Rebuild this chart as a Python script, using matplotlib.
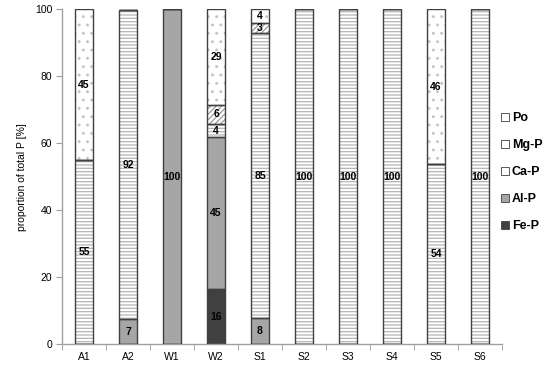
import matplotlib
matplotlib.use("Agg")
import matplotlib.pyplot as plt
from matplotlib.patches import Patch
import numpy as np

plt.rcParams['font.family'] = ['Liberation Sans', 'DejaVu Sans']

categories = ["A1", "A2", "W1", "W2", "S1", "S2", "S3", "S4", "S5", "S6"]
fe_p = [0, 0, 0, 16.4, 0, 0, 0, 0, 0, 0]
al_p = [0, 7.4, 100, 45.4, 7.7, 0, 0, 0, 0, 0]
ca_p = [55.0, 92.4, 0, 3.9, 85.1, 100, 100, 100, 53.7, 100]
mg_p = [0, 0, 0, 5.8, 3.2, 0, 0, 0, 0, 0]
po = [45.0, 0, 0, 28.6, 4.0, 0, 0, 0, 46.3, 0]

series = [
    ("Fe-P", fe_p, "#404040", None, "#404040"),
    ("Al-P", al_p, "#a6a6a6", None, "#a6a6a6"),
    ("Ca-P", ca_p, "white", "-----", "#b4b4b4"),
    ("Mg-P", mg_p, "white", "//////", "#9a9a9a"),
    ("Po", po, "white", "..", "#c4c4c4"),
]

plt.rcParams['hatch.linewidth'] = 0.9

fig = plt.figure(figsize=(5.5, 3.65), dpi=100)
ax = fig.add_axes([62 / 550, 1 - 344 / 365, 440 / 550, 334.7 / 365])

x = np.arange(len(categories))
width = 0.39
edge = "#404040"
bottom = np.zeros(len(categories))
for name, vals, fc, hatch, hc in series:
    vals = np.array(vals, dtype=float)
    ax.bar(x, vals, width, bottom=bottom, color=fc, edgecolor=hc,
           hatch=hatch, linewidth=0, zorder=2)
    ax.bar(x, vals, width, bottom=bottom, fill=False, edgecolor=edge,
           linewidth=1.0, zorder=3)
    for xi, v, b in zip(x, vals, bottom):
        if v > 0:
            ax.text(xi, b + v / 2, f"{int(round(v))}", ha="center", va="center",
                    fontsize=7.5, fontweight="bold", color="black", zorder=4)
    bottom += vals

ax.set_xlim(-0.5, len(categories) - 0.5)
ax.set_ylim(0, 100)
ax.set_yticks(np.arange(0, 101, 20))
ax.set_xticks(x)
ax.set_xticklabels(categories)
ax.set_xticks(np.arange(-0.5, len(categories), 1), minor=True)
ax.tick_params(axis="x", which="major", length=0, labelsize=7.5, pad=6)
ax.tick_params(axis="x", which="minor", length=4, color="#a0a0a0", direction="out")
ax.tick_params(axis="y", length=4, color="#a0a0a0", labelsize=7.5, direction="out", pad=3)
for s in ["top", "right"]:
    ax.spines[s].set_visible(False)
for s in ["left", "bottom"]:
    ax.spines[s].set_color("#a0a0a0")
    ax.spines[s].set_linewidth(1.0)
ax.set_ylabel("proportion of total P [%]", fontsize=7.5, labelpad=6)

handles = []
labels = []
for name, vals, fc, hatch, hc in reversed(series):
    handles.append(Patch(facecolor=fc, edgecolor=edge, linewidth=0.6))
    labels.append(name)
leg = fig.legend(handles, labels, loc="center left", bbox_to_anchor=(490 / 550, 1 - 172 / 365),
                 frameon=False, handlelength=0.6, handleheight=0.6, handletextpad=0.25,
                 labelspacing=1.2, prop={"size": 9, "weight": "bold"})

fig.savefig("out.png", dpi=100)
